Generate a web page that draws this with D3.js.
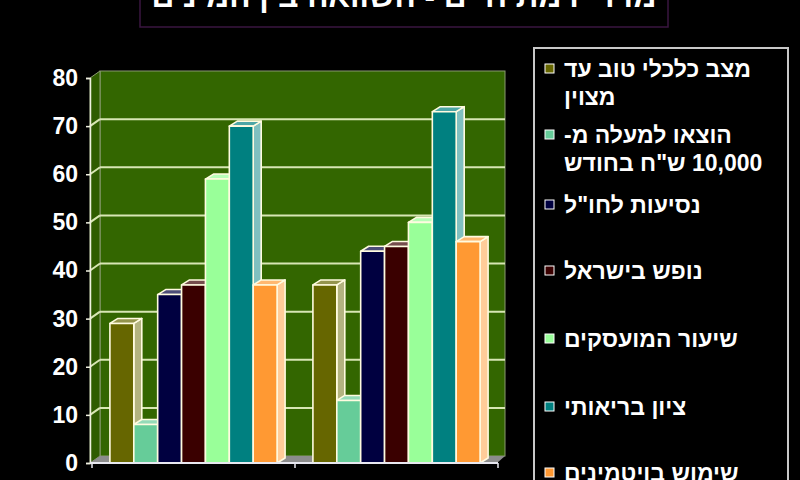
<!DOCTYPE html>
<html>
<head>
<meta charset="utf-8">
<script src="https://cdn.jsdelivr.net/npm/d3@7"></script>
<style>
  html, body { margin: 0; padding: 0; background: #000; }
  svg { display: block; }
  text { font-family: "Liberation Sans", Arial, sans-serif; font-weight: bold; fill: #fff; }
</style>
</head>
<body>
<div id="chart"></div>
<script>
var width = 800,
    height = 480;

// data
var title = "מדדי רמת חיים - השוואה בין המינים";
var categories = ["גברים", "נשים"];
var seriesNames = [
  ["מצב כלכלי טוב עד", "מצוין"],
  ["הוצאו למעלה מ-", "10,000 ש\"ח בחודש"],
  ["נסיעות לחו\"ל"],
  ["נופש בישראל"],
  ["שיעור המועסקים"],
  ["ציון בריאותי"],
  ["שימוש בויטמינים"]
];
var economy   = [29, 37];
var spending  = [8, 13];
var abroad    = [35, 44];
var vacation  = [37, 45];
var employed  = [59, 50];
var health    = [70, 73];
var vitamins  = [37, 46];
var yTicks = [0, 10, 20, 30, 40, 50, 60, 70, 80];

var seriesValues = [economy, spending, abroad, vacation, employed, health, vitamins];
var colors = ["#666600", "#66cc99", "#000040", "#3a0000", "#99ff99", "#008080", "#ff9933"];

// 3d offsets
var wallDx = 10, wallDy = -7;
var barDx = 8, barDy = -5;

var svg = d3.select("#chart").append("svg")
    .attr("width", width)
    .attr("height", height);

var y = d3.scaleLinear().domain([0, 80]).range([463, 78]);
var x0 = d3.scaleBand().domain(categories).range([92, 498]);
var x1 = d3.scaleBand().domain(d3.range(seriesNames.length))
    .range([0, x0.bandwidth()])
    .paddingOuter(0.75);

var left = 90, right = 497;

// title (mostly cut off at the top)
svg.append("rect")
    .attr("x", 140).attr("y", -12)
    .attr("width", 528).attr("height", 39)
    .attr("fill", "none")
    .attr("stroke", "#3a1640")
    .attr("stroke-width", 1.5);

svg.append("text")
    .attr("x", 404).attr("y", 7)
    .attr("text-anchor", "middle")
    .attr("direction", "rtl")
    .style("font-size", "30px")
    .attr("textLength", 505)
    .attr("lengthAdjust", "spacingAndGlyphs")
    .text(title);

// back wall
svg.append("rect")
    .attr("x", left + wallDx).attr("y", y(80) + wallDy)
    .attr("width", right + 8 - left - wallDx)
    .attr("height", y(0) - y(80))
    .attr("fill", "#336600")
    .attr("stroke", "#8a9a70")
    .attr("stroke-width", 1);

// side wall
svg.append("polygon")
    .attr("points", [[left, y(80)], [left + wallDx, y(80) + wallDy], [left + wallDx, y(0) + wallDy], [left, y(0)]].join(" "))
    .attr("fill", "#2f5c00")
    .attr("stroke", "#8a9a70");

// floor
svg.append("polygon")
    .attr("points", [[left, y(0)], [left + wallDx, y(0) + wallDy], [right + 8, y(0) + wallDy], [right, y(0)]].join(" "))
    .attr("fill", "#8c8c8c");

// grid lines on walls
var grid = svg.append("g").attr("stroke", "#d8e6b4").attr("stroke-width", 2);
yTicks.slice(1, -1).forEach(function(t) {
  grid.append("line")
      .attr("x1", left + wallDx).attr("x2", right + 8)
      .attr("y1", y(t) + wallDy).attr("y2", y(t) + wallDy);
  grid.append("line")
      .attr("x1", left).attr("x2", left + wallDx)
      .attr("y1", y(t)).attr("y2", y(t) + wallDy);
});

// bars, drawn left to right so each front hides the previous side face
var bars = svg.append("g");
categories.forEach(function(c, ci) {
  seriesValues.forEach(function(vals, si) {
    var v = vals[ci];
    var bx = x0(c) + x1(si),
        bw = x1.bandwidth(),
        top = y(v),
        base = y(0);
    var g = bars.append("g")
        .attr("stroke", "#fffbe0")
        .attr("stroke-width", 1.6)
        .attr("stroke-linejoin", "round");
    g.append("polygon")
        .attr("points", [[bx + bw, top], [bx + bw + barDx, top + barDy], [bx + bw + barDx, base + barDy], [bx + bw, base]].join(" "))
        .attr("fill", d3.interpolateRgb(colors[si], "#ffffff")(0.5));
    g.append("polygon")
        .attr("points", [[bx, top], [bx + barDx, top + barDy], [bx + bw + barDx, top + barDy], [bx + bw, top]].join(" "))
        .attr("fill", d3.interpolateRgb(colors[si], "#ffffff")(0.3));
    g.append("rect")
        .attr("x", bx).attr("y", top)
        .attr("width", bw).attr("height", base - top)
        .attr("fill", colors[si]);
  });
});

// y axis
var yAxis = svg.append("g")
    .attr("transform", "translate(" + left + ",0)")
    .call(d3.axisLeft(y).tickValues(yTicks).tickSize(4).tickPadding(8));
yAxis.select(".domain").attr("stroke", "#f0f0e0").attr("stroke-width", 1.5);
yAxis.selectAll(".tick line").attr("stroke", "#f0f0e0").attr("stroke-width", 1.5);
yAxis.selectAll(".tick text")
    .attr("fill", "#fff")
    .style("font-size", "23px")
    .style("font-weight", "bold")
    .style("font-family", "'Liberation Sans', Arial, sans-serif");

// x axis
var xAxis = svg.append("g")
    .attr("transform", "translate(0," + y(0) + ")");
xAxis.append("line")
    .attr("x1", left).attr("x2", right + 1)
    .attr("stroke", "#e8e8f0").attr("stroke-width", 2);
[x0.range()[0], x0(categories[1]), x0.range()[1]].forEach(function(tx) {
  xAxis.append("line")
      .attr("x1", tx).attr("x2", tx)
      .attr("y1", 0).attr("y2", 5)
      .attr("stroke", "#e8e8f0").attr("stroke-width", 1.5);
});
xAxis.selectAll("text.cat")
    .data(categories)
  .enter().append("text")
    .attr("class", "cat")
    .attr("x", function(d) { return x0(d) + x0.bandwidth() / 2; })
    .attr("y", 32)
    .attr("text-anchor", "middle")
    .attr("direction", "rtl")
    .style("font-size", "20px")
    .text(function(d) { return d; });

// legend
var legend = svg.append("g");
legend.append("rect")
    .attr("x", 534).attr("y", 48)
    .attr("width", 254).attr("height", 460)
    .attr("fill", "#000")
    .attr("stroke", "#c8c8c8")
    .attr("stroke-width", 2);

var legendY = [77, 143, 213, 279, 347, 415, 481];
seriesNames.forEach(function(lines, si) {
  var ly = legendY[si];
  legend.append("rect")
      .attr("x", 545).attr("y", ly - 13)
      .attr("width", 9).attr("height", 9)
      .attr("fill", colors[si])
      .attr("stroke", "#fff")
      .attr("stroke-width", 1);
  lines.forEach(function(t, li) {
    legend.append("text")
        .attr("x", 564)
        .attr("y", ly + li * 28)
        .attr("direction", "rtl")
        .attr("text-anchor", "end")
        .style("font-size", "23px")
        .text(t);
  });
});
</script>
</body>
</html>
